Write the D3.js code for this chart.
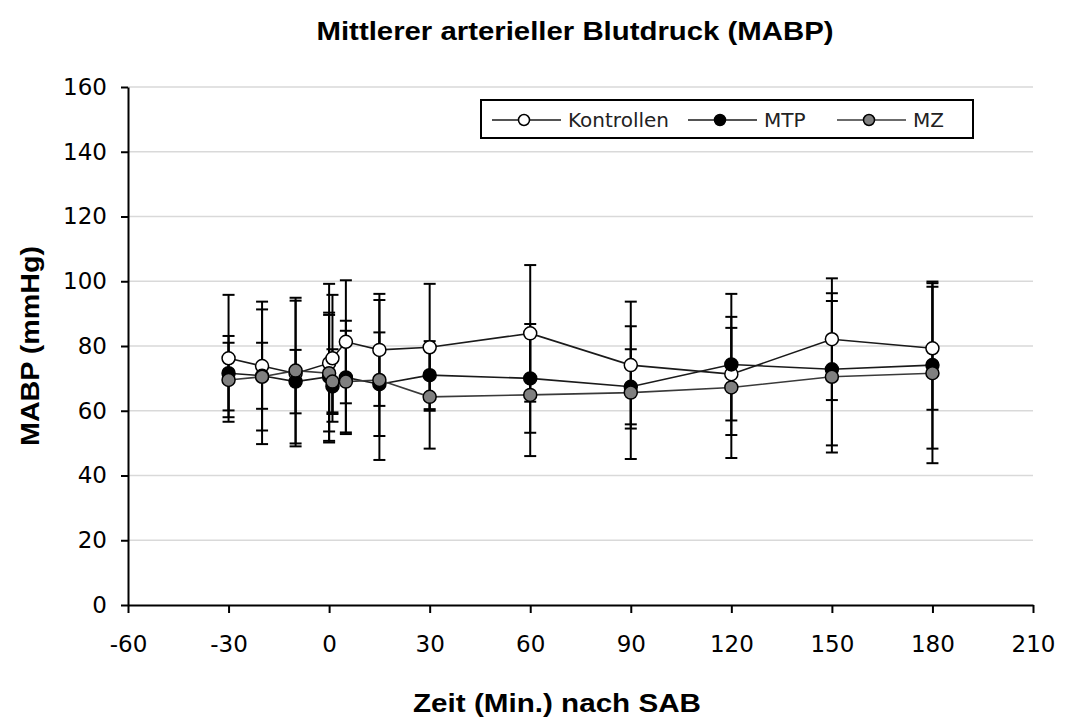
<!DOCTYPE html>
<html>
<head>
<meta charset="utf-8">
<script src="https://d3js.org/d3.v7.min.js"></script>
<style>
  body { margin: 0; background: #fff; }
  svg { display: block; }
</style>
</head>
<body>
<div id="chart"></div>
<script>
// time points (min relative to SAB)
const times = [-30, -20, -10, 0, 1, 5, 15, 30, 60, 90, 120, 150, 180];

// series means and SD (mmHg)
const kontrollenMean = [76.2, 73.8, 71.5, 74.7, 76.2, 81.3, 78.8, 79.6, 83.9, 74.1, 71.3, 82.1, 79.3];
const kontrollenSd   = [19.6, 19.9, 22.5, 24.5, 19.6, 19.0, 17.3, 19.6, 21.1, 19.6, 14.3, 18.8, 19.0];
const mtpMean = [71.6, 70.8, 69.0, 70.5, 67.5, 70.3, 68.2, 71.0, 70.0, 67.4, 74.3, 72.8, 74.1];
const mtpSd   = [11.5, 10.2, 9.8, 19.8, 8.0, 17.5, 16.0, 10.5, 16.8, 11.6, 21.8, 23.5, 25.8];
const mzMean = [69.5, 70.5, 72.4, 71.6, 69.0, 69.0, 69.5, 64.3, 64.9, 65.6, 67.2, 70.5, 71.6];
const mzSd   = [11.5, 20.8, 22.5, 18.0, 10.0, 15.7, 24.7, 16.0, 18.9, 20.5, 21.8, 23.4, 27.8];

const seriesNames = ['Kontrollen', 'MTP', 'MZ'];
const xTicks = [-60, -30, 0, 30, 60, 90, 120, 150, 180, 210];
const yTicks = [0, 20, 40, 60, 80, 100, 120, 140, 160];

const width = 1065, height = 717;
const margin = { left: 128, top: 87, right: 32, bottom: 112 };

const series = [
    { name: seriesNames[0], mean: kontrollenMean, sd: kontrollenSd, fill: '#ffffff', line: '#1a1a1a' },
    { name: seriesNames[1], mean: mtpMean, sd: mtpSd, fill: '#000000', line: '#1a1a1a' },
    { name: seriesNames[2], mean: mzMean, sd: mzSd, fill: '#808080', line: '#3a3a3a' }
];

const x = d3.scaleLinear().domain([-60, 210]).range([margin.left, width - margin.right]);
const y = d3.scaleLinear().domain([0, 160]).range([height - margin.bottom, margin.top]);

const svg = d3.select('#chart').append('svg')
    .attr('width', width)
    .attr('height', height);

// bold Arial-like text, stretched a bit wider like the original
function boldLabel(sel, txt, len) {
    return sel.attr('text-anchor', 'middle')
        .attr('textLength', len)
        .attr('lengthAdjust', 'spacingAndGlyphs')
        .style('font-family', '"Liberation Sans", Arial, sans-serif')
        .style('font-weight', 'bold')
        .style('font-size', '25px')
        .text(txt);
}

// title
boldLabel(svg.append('text').attr('x', 575).attr('y', 40),
    'Mittlerer arterieller Blutdruck (MABP)', 517);

// grid
svg.append('g').selectAll('line').data(yTicks.filter(d => d > 0))
    .enter().append('line')
    .attr('x1', x(-60)).attr('x2', x(210))
    .attr('y1', d => y(d)).attr('y2', d => y(d))
    .attr('stroke', '#d9d9d9').attr('stroke-width', 1.5);

// axes
const yAxis = svg.append('g')
    .attr('transform', `translate(${x(-60)},0)`)
    .call(d3.axisLeft(y).tickValues(yTicks).tickFormat(d => String(d))
        .tickSize(7).tickPadding(14).tickSizeOuter(0));
const xAxis = svg.append('g')
    .attr('transform', `translate(0,${y(0)})`)
    .call(d3.axisBottom(x).tickValues(xTicks).tickFormat(d => String(d))
        .tickSize(8).tickPadding(23).tickSizeOuter(0));

[yAxis, xAxis].forEach(g => {
    g.selectAll('path, line').attr('stroke', '#000').attr('stroke-width', 2);
    g.selectAll('text')
        .attr('fill', '#000')
        .style('font-family', '"DejaVu Sans", Verdana, sans-serif')
        .style('font-size', '23px');
});

// axis titles
boldLabel(svg.append('text')
    .attr('transform', `translate(39,${(y(0) + y(160)) / 2}) rotate(-90)`),
    'MABP (mmHg)', 200);

boldLabel(svg.append('text').attr('x', 557).attr('y', 712),
    'Zeit (Min.) nach SAB', 288);

// error bars
const capW = 6;
series.forEach(s => {
    const g = svg.append('g').attr('class', 'err');
    times.forEach((t, i) => {
        const hi = s.mean[i] + s.sd[i], lo = s.mean[i] - s.sd[i];
        g.append('line')
            .attr('x1', x(t)).attr('x2', x(t))
            .attr('y1', y(hi)).attr('y2', y(lo))
            .attr('stroke', '#000').attr('stroke-width', 2);
        [hi, lo].forEach(v => {
            g.append('line')
                .attr('x1', x(t) - capW).attr('x2', x(t) + capW)
                .attr('y1', y(v)).attr('y2', y(v))
                .attr('stroke', '#000').attr('stroke-width', 2);
        });
    });
});

// lines and markers
const line = d3.line().x(d => x(d[0])).y(d => y(d[1]));
series.forEach(s => {
    const pts = times.map((t, i) => [t, s.mean[i]]);
    svg.append('path')
        .datum(pts)
        .attr('d', line)
        .attr('fill', 'none')
        .attr('stroke', s.line)
        .attr('stroke-width', 1.6);
    svg.append('g').selectAll('circle').data(pts)
        .enter().append('circle')
        .attr('cx', d => x(d[0]))
        .attr('cy', d => y(d[1]))
        .attr('r', 6.5)
        .attr('fill', s.fill)
        .attr('stroke', '#000')
        .attr('stroke-width', 1.5);
});

// legend
const legend = svg.append('g');
legend.append('rect')
    .attr('x', 481).attr('y', 100)
    .attr('width', 492).attr('height', 38)
    .attr('fill', '#fff')
    .attr('stroke', '#000').attr('stroke-width', 2);

const legendX = [492, 688, 837];
series.forEach((s, i) => {
    const lx = legendX[i];
    legend.append('line')
        .attr('x1', lx).attr('x2', lx + 69)
        .attr('y1', 120).attr('y2', 120)
        .attr('stroke', s.line).attr('stroke-width', 1.6);
    legend.append('circle')
        .attr('cx', lx + 32).attr('cy', 120).attr('r', 5.5)
        .attr('fill', s.fill)
        .attr('stroke', '#000').attr('stroke-width', 1.5);
    legend.append('text')
        .attr('x', lx + 76).attr('y', 120)
        .attr('dy', '0.36em')
        .style('font-family', '"DejaVu Sans", Verdana, sans-serif')
        .style('font-size', '20px')
        .attr('fill', '#222')
        .text(s.name);
});
</script>
</body>
</html>
